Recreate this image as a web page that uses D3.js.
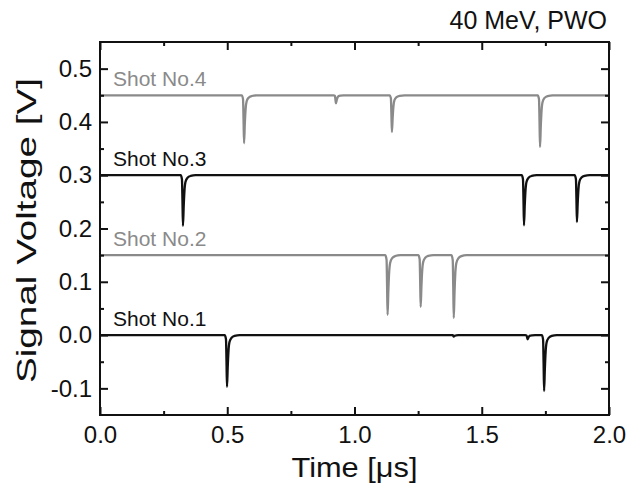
<!DOCTYPE html>
<html>
<head>
<meta charset="utf-8">
<script src="https://cdn.jsdelivr.net/npm/d3@7"></script>
<style>
  body { margin: 0; background: #fff; }
  text { font-family: "Liberation Sans", Arial, sans-serif; fill: #111; }
</style>
</head>
<body>
<script>
// data
const shotNames = ["Shot No.1", "Shot No.2", "Shot No.3", "Shot No.4"];
const baselines = [0, 0.15, 0.30, 0.45];
// pulse times [us] and depths [V] per shot
const pulseTimes = [
  [0.499, 1.39, 1.68, 1.745],
  [1.13, 1.26, 1.39],
  [0.326, 1.666, 1.874],
  [0.566, 0.927, 1.147, 1.729]
];
const pulseDepths = [
  [0.097, 0.003, 0.008, 0.105],
  [0.112, 0.097, 0.118],
  [0.095, 0.094, 0.088],
  [0.09, 0.015, 0.069, 0.097]
];
const xTicks = [0, 0.5, 1.0, 1.5, 2.0];
const xMinor = [0.25, 0.75, 1.25, 1.75];
const yTicks = [-0.1, 0, 0.1, 0.2, 0.3, 0.4, 0.5];
const yMinor = [-0.05, 0.05, 0.15, 0.25, 0.35, 0.45];

const shotColors = ["#111", "#8a8a8a", "#111", "#8a8a8a"];
// shape of one pulse: [time offset, fraction of depth]
const pulseShape = [[-0.009, 0], [-0.004, 0.08], [-0.002, 0.5], [0, 1], [0.003, 0.6],
  [0.006, 0.3], [0.01, 0.13], [0.018, 0.05], [0.03, 0.015], [0.05, 0]];

const width = 640, height = 490;
const margin = { top: 42, right: 31, bottom: 75, left: 100 };

const svg = d3.select("body").append("svg")
  .attr("width", width).attr("height", height);

const x = d3.scaleLinear().domain([0, 2]).range([margin.left, width - margin.right]);
const y = d3.scaleLinear().domain([-0.15, 0.55]).range([height - margin.bottom, margin.top]);

// build each trace from baseline + pulses
function trace(i) {
  const b = baselines[i];
  const pts = [[0, b]];
  pulseTimes[i].forEach((t, k) => {
    const d = pulseDepths[i][k];
    pulseShape.forEach(p => pts.push([t + p[0], b - d * p[1]]));
  });
  pts.push([2, b]);
  return pts;
}

const line = d3.line()
  .x(d => x(d[0]))
  .y(d => y(d[1]))
  .curve(d3.curveMonotoneX);

const traces = svg.append("g");
shotNames.forEach((name, i) => {
  traces.append("path")
    .attr("d", line(trace(i)))
    .attr("fill", "none")
    .attr("stroke", shotColors[i])
    .attr("stroke-width", 2.3)
    .attr("stroke-linejoin", "round");

  svg.append("text")
    .attr("x", x(0) + 13)
    .attr("y", y(baselines[i]) - 9)
    .attr("font-size", 21)
    .style("fill", shotColors[i])
    .text(name);
});

//------- AXES -------
const fmt = d => d.toFixed(1);
const bottom = height - margin.bottom, right = width - margin.right;

function styleAxis(g) {
  g.select(".domain").remove();
  g.selectAll(".tick line").attr("stroke", "#111").attr("stroke-width", 2);
  g.selectAll(".tick text").attr("font-size", 24).style("fill", "#111");
}

svg.append("g").attr("transform", `translate(0,${bottom})`)
  .call(d3.axisBottom(x).tickValues(xTicks).tickFormat(fmt).tickSizeInner(-8).tickPadding(11))
  .call(styleAxis);
svg.append("g").attr("transform", `translate(0,${bottom})`)
  .call(d3.axisBottom(x).tickValues(xMinor).tickFormat("").tickSizeInner(-4))
  .call(styleAxis);
svg.append("g").attr("transform", `translate(0,${margin.top})`)
  .call(d3.axisTop(x).tickValues(xTicks).tickFormat("").tickSizeInner(-8))
  .call(styleAxis);
svg.append("g").attr("transform", `translate(0,${margin.top})`)
  .call(d3.axisTop(x).tickValues(xMinor).tickFormat("").tickSizeInner(-4))
  .call(styleAxis);

svg.append("g").attr("transform", `translate(${margin.left},0)`)
  .call(d3.axisLeft(y).tickValues(yTicks).tickFormat(fmt).tickSizeInner(-8).tickPadding(8))
  .call(styleAxis);
svg.append("g").attr("transform", `translate(${margin.left},0)`)
  .call(d3.axisLeft(y).tickValues(yMinor).tickFormat("").tickSizeInner(-4))
  .call(styleAxis);
svg.append("g").attr("transform", `translate(${right},0)`)
  .call(d3.axisRight(y).tickValues(yTicks).tickFormat("").tickSizeInner(-8))
  .call(styleAxis);
svg.append("g").attr("transform", `translate(${right},0)`)
  .call(d3.axisRight(y).tickValues(yMinor).tickFormat("").tickSizeInner(-4))
  .call(styleAxis);

// frame
svg.append("rect")
  .attr("x", margin.left).attr("y", margin.top)
  .attr("width", right - margin.left).attr("height", bottom - margin.top)
  .attr("fill", "none").attr("stroke", "#111").attr("stroke-width", 2);

//------- TITLES -------
svg.append("text")
  .attr("x", (margin.left + right) / 2).attr("y", 477)
  .attr("text-anchor", "middle").attr("font-size", 28)
  .attr("textLength", 126).attr("lengthAdjust", "spacingAndGlyphs")
  .text("Time [μs]");

svg.append("text")
  .attr("transform", `translate(36,${(margin.top + bottom) / 2 + 2}) rotate(-90)`)
  .attr("text-anchor", "middle").attr("font-size", 28)
  .attr("textLength", 305).attr("lengthAdjust", "spacingAndGlyphs")
  .text("Signal Voltage [V]");

svg.append("text")
  .attr("x", right - 2).attr("y", 29)
  .attr("text-anchor", "end").attr("font-size", 25)
  .text("40 MeV, PWO");
</script>
</body>
</html>
